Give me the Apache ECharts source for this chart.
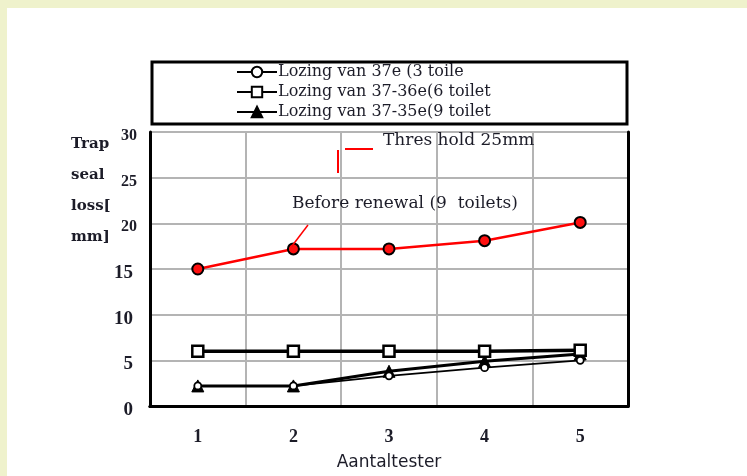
<!DOCTYPE html>
<html>
<head>
<meta charset="utf-8">
<script src="https://cdn.jsdelivr.net/npm/echarts@6/dist/echarts.min.js"></script>
<style>
  html, body { margin: 0; padding: 0; background: #ffffff; }
  #chart { width: 747px; height: 476px; }
</style>
</head>
<body>
<div id="chart"></div>
<script>
// Number of tests on the x axis
const categories = ['1', '2', '3', '4', '5'];
const yTicks = { min: 0, max: 30, interval: 5 };

// Trap seal loss [mm] per test
const beforeRenewal = [15, 17.2, 17.2, 18.1, 20.1];
const toilets3 = [2.2, 2.2, 3.3, 4.2, 5.0];
const toilets6 = [6, 6, 6, 6, 6.1];
const toilets9 = [2.2, 2.2, 3.8, 4.9, 5.7];

const seriesNames = [
  'Lozing van 37e (3 toile',
  'Lozing van 37-36e(6 toilet',
  'Lozing van 37-35e(9 toilet'
];

const serif = '"DejaVu Serif", "Liberation Serif", serif';
const times = '"Liberation Serif", "Times New Roman", serif';
const ink = '#1c1c28';

const frameAxisLine = { show: true, lineStyle: { color: '#000', width: 3 } };

const chart = echarts.init(document.getElementById('chart'), null, { renderer: 'canvas' });

chart.setOption({
  backgroundColor: '#ffffff',
  animation: false,
  grid: { left: 150, right: 119, top: 132, bottom: 69 },
  legend: {
    data: seriesNames,
    orient: 'vertical',
    left: 236, top: 64,
    itemWidth: 40, itemHeight: 13, itemGap: 4,
    textStyle: { fontFamily: serif, fontSize: 16, color: ink, lineHeight: 16, padding: [0, 0, 0, -4] },
    padding: 0,
    selectedMode: false
  },
  xAxis: [
    {
      type: 'category',
      data: categories,
      boundaryGap: true,
      name: 'Aantaltester',
      nameLocation: 'middle',
      nameGap: 48,
      nameTextStyle: { fontFamily: '"DejaVu Sans", sans-serif', fontSize: 17, color: ink },
      axisLine: frameAxisLine,
      axisTick: { show: false },
      axisLabel: { fontFamily: times, fontSize: 18, fontWeight: 'bold', color: ink, margin: 22 },
      splitLine: { show: true, lineStyle: { color: '#b4b4b4', width: 2 } },
      z: 3
    },
    {
      type: 'category',
      data: categories,
      position: 'top',
      axisLine: frameAxisLine,
      axisTick: { show: false },
      axisLabel: { show: false },
      splitLine: { show: false },
      z: 3
    }
  ],
  yAxis: [
    {
      type: 'value',
      min: yTicks.min, max: yTicks.max, interval: yTicks.interval,
      axisLine: frameAxisLine,
      axisTick: { show: false },
      axisLabel: {
        fontFamily: times, fontSize: 19, fontWeight: 'bold', color: ink, margin: 17, padding: [8, 0, 0, 0],
        formatter: v => (v >= 20 ? '{s|' + v + '}' : String(v)),
        rich: { s: { fontFamily: times, fontSize: 16, fontWeight: 'bold', color: ink, padding: [0, -4, 0, 0] } }
      },
      splitLine: { show: true, lineStyle: { color: '#b4b4b4', width: 2 } },
      z: 3
    },
    {
      type: 'value',
      min: yTicks.min, max: yTicks.max, interval: yTicks.interval,
      position: 'right',
      axisLine: frameAxisLine,
      axisTick: { show: false },
      axisLabel: { show: false },
      splitLine: { show: false },
      z: 3
    }
  ],
  series: [
    {
      name: 'Before renewal (9 toilets)',
      type: 'line',
      data: beforeRenewal,
      symbol: 'circle', symbolSize: 11,
      lineStyle: { color: '#ff0000', width: 2.5 },
      itemStyle: { color: '#ff1010', borderColor: '#000', borderWidth: 2 },
      z: 5
    },
    {
      name: seriesNames[1],
      type: 'line',
      data: toilets6,
      symbol: 'rect', symbolSize: 11,
      lineStyle: { color: '#000', width: 3.5 },
      itemStyle: { color: '#ffffff', borderColor: '#000', borderWidth: 2.5 },
      z: 4
    },
    {
      name: seriesNames[2],
      type: 'line',
      data: toilets9,
      symbol: 'triangle', symbolSize: 12,
      lineStyle: { color: '#000', width: 3 },
      itemStyle: { color: '#000', borderColor: '#000', borderWidth: 1 },
      z: 3
    },
    {
      name: seriesNames[0],
      type: 'line',
      data: toilets3,
      symbol: 'circle', symbolSize: 7,
      lineStyle: { color: '#000', width: 1.8 },
      itemStyle: { color: '#ffffff', borderColor: '#000', borderWidth: 1.8 },
      z: 3
    }
  ],
  graphic: [
    // page frame bands
    { type: 'rect', left: 0, top: 0, shape: { width: 747, height: 8 }, style: { fill: '#eff2cc' }, silent: true },
    { type: 'rect', left: 0, top: 0, shape: { width: 7, height: 476 }, style: { fill: '#eff2cc' }, silent: true },
    // legend frame
    { type: 'rect', shape: { x: 152, y: 62, width: 475, height: 62 }, style: { fill: 'none', stroke: '#000', lineWidth: 3 }, z: 1, silent: true },
    // y axis title
    {
      type: 'text', left: 71, top: 129, z: 10,
      style: { text: 'Trap\nseal\nloss[\nmm]', fontFamily: serif, fontSize: 15, fontWeight: 'bold', fill: ink, lineHeight: 31, align: 'left' }
    },
    // threshold note
    { type: 'line', shape: { x1: 338, y1: 150, x2: 338, y2: 173 }, style: { stroke: '#ff0000', lineWidth: 2 }, z: 10 },
    { type: 'line', shape: { x1: 345, y1: 149, x2: 373, y2: 149 }, style: { stroke: '#ff0000', lineWidth: 2 }, z: 10 },
    {
      type: 'text', left: 383, top: 132, z: 10,
      style: { text: 'Thres hold 25mm', fontFamily: serif, fontSize: 17, fill: ink }
    },
    // before renewal note
    {
      type: 'text', left: 292, top: 195, z: 10,
      style: { text: 'Before renewal (9  toilets)', fontFamily: serif, fontSize: 17, fill: ink }
    },
    { type: 'line', shape: { x1: 292, y1: 246, x2: 308, y2: 225 }, style: { stroke: '#ff0000', lineWidth: 1.5 }, z: 10 }
  ]
});
</script>
</body>
</html>
